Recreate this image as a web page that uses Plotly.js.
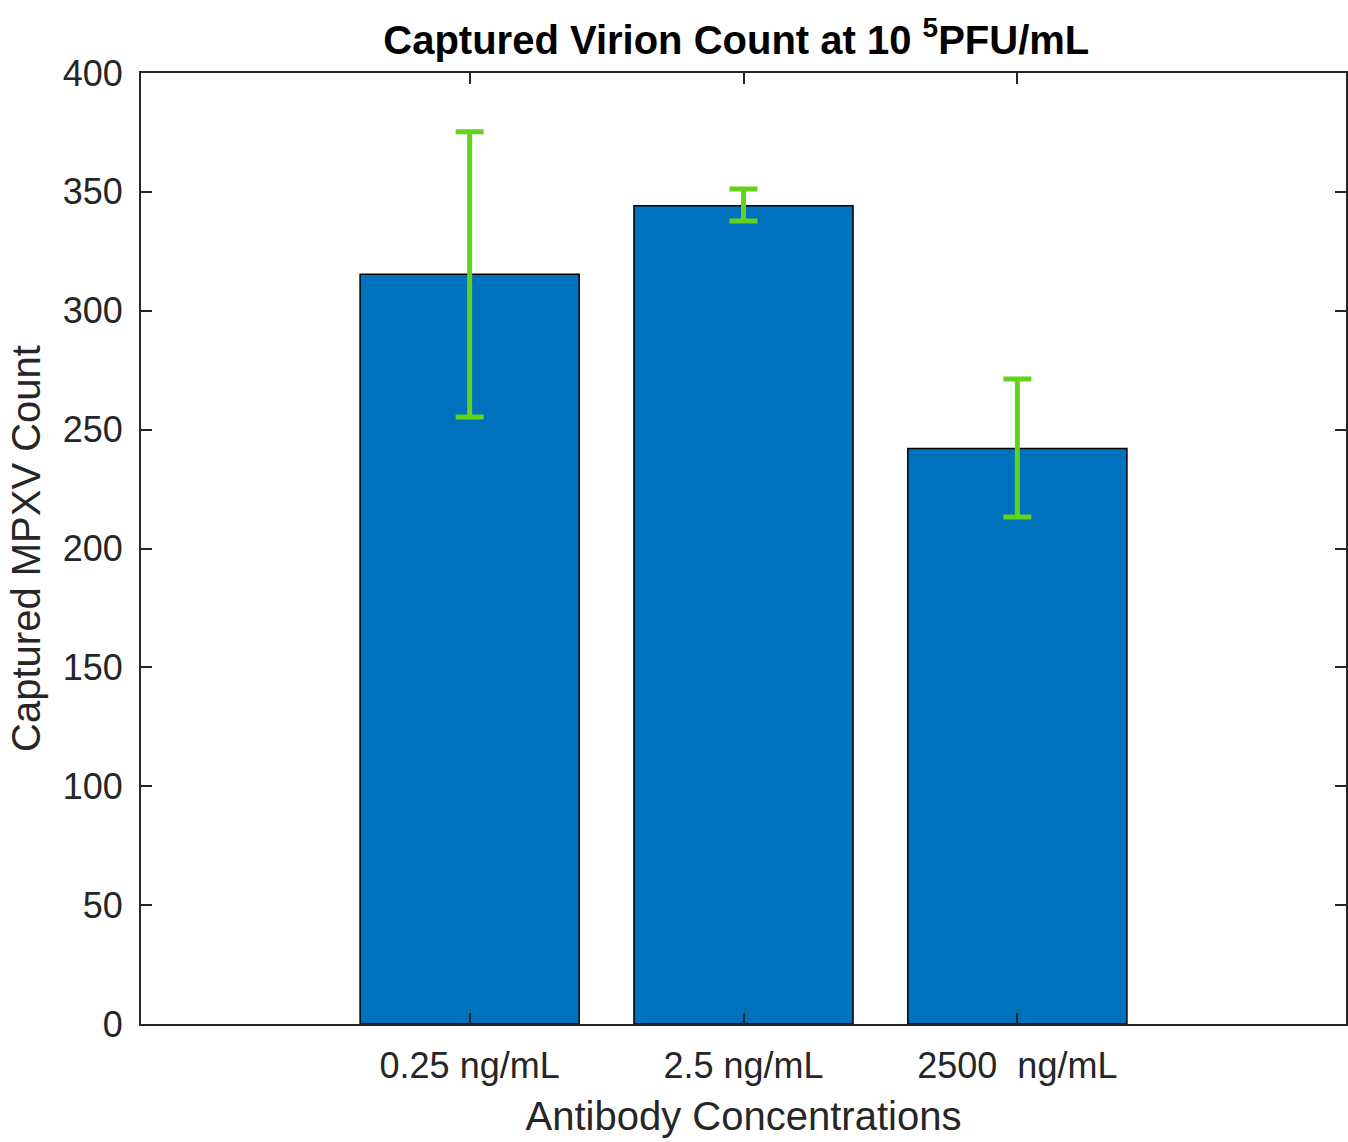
<!DOCTYPE html>
<html>
<head>
<meta charset="utf-8">
<script src="https://cdn.plot.ly/plotly-3.0.1.min.js"></script>
<style>html,body{margin:0;padding:0;background:#fff;}#chart{width:1348px;height:1142px;}</style>
</head>
<body>
<div id="chart"></div>
<script>
const categories = ['0.25 ng/mL', '2.5 ng/mL', '2500\u00a0 ng/mL'];
const positions = [1, 2, 3];
const counts = [315.3, 344.2, 242.1];
const errPlus = [60, 7, 29.2];
const errMinus = [60, 6.5, 28.8];
const yTicks = [0, 50, 100, 150, 200, 250, 300, 350, 400];

const font = 'Liberation Sans, Arial, Helvetica, sans-serif';
const axisColor = '#262626';

const trace = {
  type: 'bar',
  x: positions,
  y: counts,
  width: 0.8,
  marker: {color: '#0072BD', line: {color: '#000000', width: 1.5}},
  error_y: {
    type: 'data', symmetric: false,
    array: errPlus, arrayminus: errMinus,
    color: '#62D31A', thickness: 5, width: 14
  },
  hoverinfo: 'none'
};

const layout = {
  width: 1348, height: 1142,
  margin: {l: 141, r: 2, t: 73, b: 118},
  paper_bgcolor: '#ffffff', plot_bgcolor: '#ffffff',
  showlegend: false,
  font: {family: font, color: axisColor},
  title: {
    text: '<b>Captured Virion Count at 10 <sup>5</sup>PFU/mL</b>',
    font: {family: font, size: 40, color: '#000000'},
    x: 0.494, xref: 'paper', xanchor: 'center',
    y: 1 - 40 / 1142, yref: 'container', yanchor: 'middle'
  },
  xaxis: {
    range: [-0.2, 4.2],
    tickmode: 'array', tickvals: positions, ticktext: categories,
    ticks: 'inside', ticklen: 11, tickwidth: 2, tickcolor: axisColor,
    showline: true, linecolor: axisColor, linewidth: 2, mirror: 'ticks',
    showgrid: false, zeroline: false,
    tickfont: {family: font, size: 36, color: axisColor},
    ticklabelstandoff: 9,
    title: {text: 'Antibody Concentrations', font: {family: font, size: 40, color: axisColor}, standoff: 17},
    automargin: false
  },
  yaxis: {
    range: [0, 400],
    tickmode: 'array', tickvals: yTicks, ticktext: yTicks.map(String),
    ticks: 'inside', ticklen: 11, tickwidth: 2, tickcolor: axisColor,
    showline: true, linecolor: axisColor, linewidth: 2, mirror: 'ticks',
    showgrid: false, zeroline: false,
    tickfont: {family: font, size: 36, color: axisColor},
    ticklabelstandoff: 9,
    title: {text: 'Captured MPXV Count', font: {family: font, size: 40, color: axisColor}, standoff: 10},
    automargin: false
  },
  bargap: 0.2
};

Plotly.newPlot('chart', [trace], layout, {staticPlot: true, displayModeBar: false});
</script>
</body>
</html>
